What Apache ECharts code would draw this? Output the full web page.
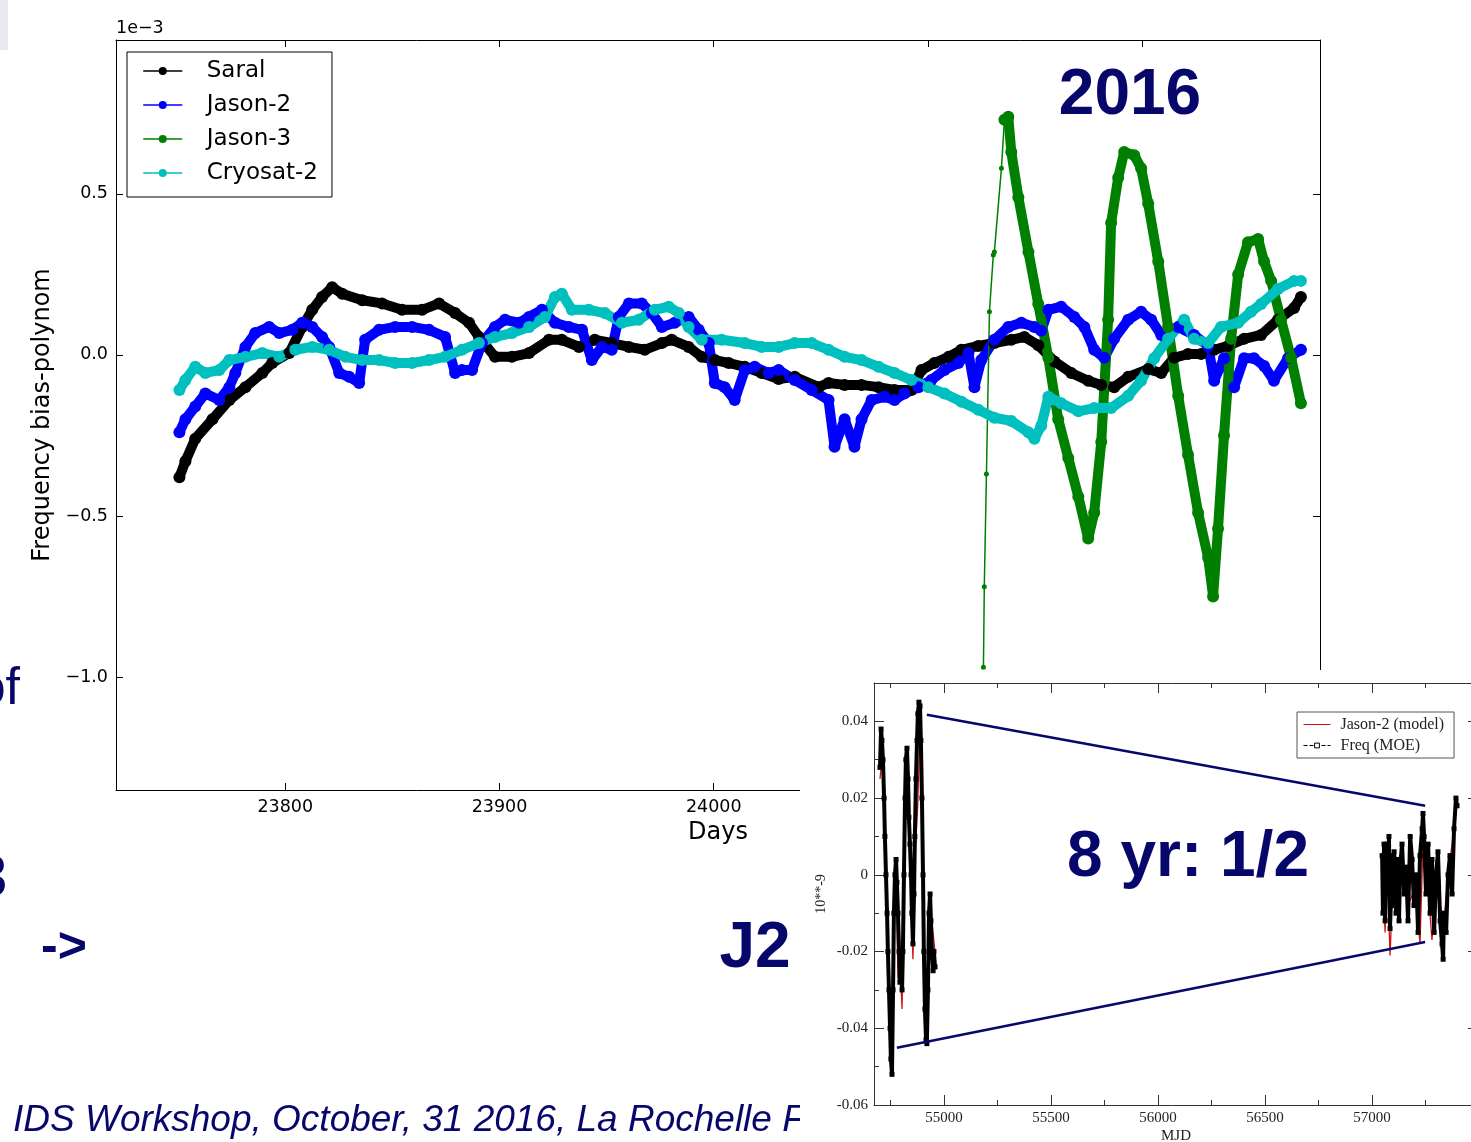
<!DOCTYPE html>
<html><head><meta charset="utf-8">
<script src="https://cdn.jsdelivr.net/npm/echarts@6/dist/echarts.min.js"></script>
<style>html,body{margin:0;padding:0;background:#fff}#c{width:1471px;height:1142px}</style>
</head><body><div id="c"></div>
<script>
// ---------- main chart data (Days, frequency bias in units of 1e-3) ----------
const mainXTicks = [23800, 23900, 24000, 24100, 24200];
const mainYTicks = [-1.0, -0.5, 0.0, 0.5];
const seriesNames = ['Saral', 'Jason-2', 'Jason-3', 'Cryosat-2'];

const saral = [[23750.6,-0.38],[23753.4,-0.33],[23758.0,-0.26],[23766.0,-0.20],[23773.9,-0.14],[23781.4,-0.10],[23789.3,-0.056],[23793.9,-0.025],[23801.9,0.006],[23807.9,0.087],[23812.6,0.14],[23817.2,0.18],[23821.9,0.21],[23826.6,0.19],[23835.9,0.17],[23845.2,0.16],[23854.5,0.14],[23863.9,0.14],[23871.8,0.16],[23879.3,0.13],[23885.8,0.10],[23890.4,0.056],[23897.9,-0.006],[23905.8,-0.006],[23913.8,0.006],[23923.1,0.047],[23929.1,0.047],[23937.1,0.025],[23944.5,0.047],[23952.4,0.037],[23960.4,0.025],[23967.8,0.016],[23975.8,0.037],[23980.4,0.047],[23988.3,0.025],[23994.4,-0.006],[24000.5,-0.016],[24007.0,-0.025],[24014.5,-0.037],[24022.4,-0.056],[24030.3,-0.075],[24037.8,-0.068],[24049.0,-0.10],[24053.6,-0.087],[24061.1,-0.093],[24069.0,-0.093],[24076.9,-0.10],[24084.4,-0.109],[24092.3,-0.109],[24097.0,-0.047],[24103.0,-0.025],[24109.6,-0.006],[24115.6,0.016],[24123.5,0.028],[24131.0,0.037],[24138.9,0.047],[24145.0,0.056],[24151.5,0.03],[24159.0,-0.02],[24166.9,-0.056],[24174.8,-0.08],[24180.9,-0.093],[24186.9,-0.10],[24193.5,-0.068],[24202.8,-0.044],[24208.9,-0.056],[24214.9,-0.009],[24221.4,0.003],[24227.5,0.003],[24233.6,0.016],[24240.1,0.028],[24247.6,0.05],[24255.5,0.062],[24263.4,0.109],[24270.9,0.146],[24274.1,0.18]];

const jason2 = [[23750.6,-0.24],[23753.4,-0.20],[23758.0,-0.16],[23762.7,-0.12],[23769.2,-0.14],[23773.9,-0.10],[23776.7,-0.056],[23781.4,0.025],[23786.0,0.068],[23792.5,0.087],[23797.2,0.068],[23803.3,0.078],[23807.9,0.10],[23812.6,0.087],[23817.2,0.056],[23820.5,0.025],[23825.2,-0.056],[23829.8,-0.068],[23834.5,-0.087],[23837.3,0.047],[23843.8,0.078],[23851.3,0.087],[23859.2,0.087],[23867.1,0.078],[23874.6,0.056],[23879.3,-0.056],[23882.5,-0.047],[23887.2,-0.047],[23891.8,0.037],[23897.9,0.087],[23902.6,0.109],[23909.1,0.10],[23913.8,0.118],[23919.8,0.14],[23925.9,0.10],[23932.4,0.087],[23938.5,0.078],[23943.1,-0.016],[23947.8,0.025],[23952.4,0.016],[23955.7,0.118],[23960.4,0.16],[23966.4,0.16],[23971.1,0.13],[23975.8,0.087],[23981.8,0.10],[23988.3,0.118],[23993.0,0.078],[23997.7,0.037],[24000.5,-0.087],[24005.1,-0.10],[24009.8,-0.14],[24014.5,-0.047],[24019.1,-0.037],[24025.6,-0.056],[24030.3,-0.047],[24037.8,-0.078],[24045.7,-0.109],[24053.6,-0.14],[24056.4,-0.285],[24061.1,-0.20],[24065.7,-0.285],[24069.0,-0.20],[24073.7,-0.14],[24079.7,-0.13],[24084.4,-0.14],[24089.0,-0.12],[24095.6,-0.10],[24101.6,-0.078],[24107.7,-0.047],[24114.2,-0.025],[24118.9,0.006],[24121.7,-0.10],[24124.9,-0.016],[24131.0,0.047],[24137.5,0.087],[24143.6,0.10],[24149.7,0.087],[24152.9,0.075],[24156.2,0.14],[24162.2,0.15],[24168.3,0.118],[24173.0,0.087],[24177.6,0.016],[24182.3,-0.009],[24186.9,0.05],[24193.5,0.109],[24199.5,0.134],[24204.2,0.109],[24208.9,0.062],[24216.8,0.087],[24224.2,0.062],[24230.8,0.028],[24233.6,-0.08],[24238.2,-0.01],[24242.9,-0.10],[24247.6,-0.01],[24252.2,-0.01],[24256.9,-0.034],[24261.5,-0.08],[24268.1,-0.01],[24274.1,0.016]];

const jason3Start = [[24125.9,-0.97],[24126.3,-0.72],[24127.3,-0.37],[24128.7,0.134],[24130.5,0.31],[24131.0,0.32],[24134.3,0.58],[24135.7,0.73]];
const jason3 = [[24135.7,0.73],[24137.5,0.74],[24138.9,0.63],[24142.2,0.49],[24146.9,0.32],[24151.5,0.158],[24156.2,-0.009],[24160.8,-0.20],[24165.5,-0.32],[24170.2,-0.44],[24174.8,-0.57],[24177.6,-0.49],[24180.9,-0.27],[24184.1,0.109],[24185.5,0.41],[24188.8,0.55],[24191.6,0.63],[24196.3,0.62],[24199.5,0.58],[24202.8,0.47],[24207.5,0.29],[24212.1,0.087],[24216.8,-0.127],[24221.4,-0.31],[24226.1,-0.49],[24230.8,-0.63],[24233.1,-0.75],[24235.4,-0.54],[24238.2,-0.25],[24241.5,0.05],[24244.8,0.25],[24249.4,0.35],[24254.1,0.36],[24256.9,0.29],[24260.2,0.23],[24264.8,0.109],[24269.5,-0.009],[24274.1,-0.15]];

const cryosat2 = [[23750.6,-0.109],[23753.4,-0.078],[23758.0,-0.037],[23762.7,-0.056],[23769.2,-0.047],[23773.9,-0.016],[23781.4,-0.006],[23789.3,0.006],[23797.2,-0.006],[23804.7,0.016],[23812.6,0.025],[23820.5,0.016],[23828.0,-0.006],[23835.9,-0.016],[23843.8,-0.016],[23851.3,-0.025],[23859.2,-0.025],[23867.1,-0.016],[23874.6,-0.006],[23882.5,0.016],[23890.4,0.037],[23897.9,0.056],[23905.8,0.068],[23913.8,0.087],[23921.2,0.118],[23925.9,0.18],[23929.1,0.19],[23933.8,0.14],[23941.7,0.14],[23949.2,0.13],[23957.1,0.10],[23965.0,0.109],[23972.5,0.14],[23979.0,0.15],[23983.7,0.13],[23988.3,0.087],[23994.4,0.047],[24003.7,0.047],[24014.5,0.037],[24022.4,0.025],[24030.3,0.025],[24037.8,0.037],[24045.7,0.037],[24053.6,0.016],[24061.1,-0.006],[24069.0,-0.016],[24076.9,-0.037],[24084.4,-0.056],[24092.3,-0.078],[24100.2,-0.10],[24107.7,-0.12],[24115.6,-0.145],[24123.5,-0.17],[24131.0,-0.195],[24138.9,-0.205],[24146.9,-0.24],[24149.7,-0.26],[24152.9,-0.22],[24156.2,-0.13],[24162.2,-0.15],[24170.2,-0.175],[24177.6,-0.165],[24185.5,-0.165],[24193.5,-0.127],[24199.5,-0.08],[24205.6,-0.01],[24212.1,0.05],[24219.6,0.109],[24224.2,0.05],[24230.8,0.037],[24236.8,0.087],[24244.8,0.10],[24250.8,0.134],[24255.5,0.158],[24263.4,0.205],[24270.9,0.23],[24274.1,0.23]];

// ---------- inset data (MJD, 10**-9) ----------
const insetXTicks = [55000, 55500, 56000, 56500, 57000];
const insetXMinor = [54750, 55250, 55750, 56250, 56750, 57250];
const insetYTicks = [-0.06, -0.04, -0.02, 0, 0.02, 0.04];
const insetYMinor = [-0.05, -0.03, -0.01, 0.01, 0.03];
const insetNames = ['Jason-2 (model)', 'Freq (MOE)'];

const freqMoeLeft = [[54701,0.028],[54706,0.038],[54710,0.035],[54715,0.030],[54720,0.020],[54724,0.010],[54729,0.000],[54734,-0.010],[54738,-0.020],[54743,-0.030],[54748,-0.040],[54752,-0.048],[54757,-0.052],[54762,-0.030],[54766,-0.010],[54771,0.000],[54776,0.004],[54780,-0.002],[54785,-0.010],[54790,-0.020],[54794,-0.028],[54799,-0.025],[54804,-0.030],[54808,-0.020],[54813,0.000],[54818,0.020],[54822,0.030],[54827,0.033],[54832,0.025],[54836,0.015],[54841,0.008],[54846,0.000],[54850,-0.010],[54855,-0.018],[54860,-0.005],[54864,0.010],[54869,0.025],[54874,0.035],[54878,0.042],[54883,0.045],[54888,0.044],[54892,0.035],[54897,0.020],[54902,0.000],[54906,-0.020],[54911,-0.035],[54916,-0.043],[54920,-0.044],[54925,-0.030],[54930,-0.010],[54935,-0.005],[54939,-0.012],[54944,-0.020],[54949,-0.025],[54953,-0.020],[54958,-0.024]];
const freqMoeRight = [[57047,0.005],[57051,-0.010],[57056,0.008],[57061,-0.012],[57065,0.002],[57070,0.008],[57075,-0.005],[57079,0.010],[57084,-0.014],[57089,0.000],[57093,0.005],[57098,-0.008],[57103,0.006],[57107,0.002],[57112,-0.010],[57117,0.004],[57121,0.000],[57126,-0.012],[57131,0.002],[57140,0.008],[57150,-0.005],[57159,0.002],[57168,-0.012],[57178,0.010],[57187,0.004],[57196,-0.008],[57206,0.000],[57215,-0.015],[57224,0.005],[57234,0.012],[57238,0.016],[57243,0.010],[57252,-0.005],[57262,0.008],[57271,-0.010],[57280,0.004],[57290,-0.015],[57299,0.000],[57308,0.006],[57318,-0.012],[57327,-0.018],[57332,-0.022],[57336,-0.010],[57346,-0.015],[57355,0.000],[57364,0.005],[57374,-0.005],[57383,0.012],[57392,0.020],[57397,0.018]];
const modelLeft = [[54701,0.025],[54710,0.030],[54715,0.027],[54720,0.014],[54729,0.004],[54745,-0.035],[54757,-0.045],[54766,-0.012],[54776,0.002],[54785,-0.027],[54794,-0.022],[54804,-0.035],[54813,-0.005],[54822,0.022],[54832,0.018],[54841,0.004],[54855,-0.022],[54864,0.004],[54878,0.019],[54888,0.040],[54897,0.016],[54906,-0.015],[54920,-0.040],[54930,-0.008],[54939,-0.010],[54958,-0.020]];
const modelRight = [[57047,0.002],[57061,-0.015],[57070,0.004],[57084,-0.021],[57098,-0.002],[57121,-0.004],[57140,0.003],[57168,-0.008],[57196,-0.004],[57206,-0.006],[57224,-0.018],[57238,0.008],[57262,-0.004],[57280,-0.017],[57299,-0.004],[57318,-0.008],[57336,-0.012],[57355,0.000],[57374,0.008],[57392,0.016]];
const connectorUpper = [[54920,0.0417],[57248,0.018]];
const connectorLower = [[54780,-0.0451],[57248,-0.0175]];

// ---------- build ----------
const DV = 'DejaVu Sans', SERIF = 'Liberation Serif';
const NAVY = '#07076b';
const GAP = [56000, '-'];

function mainSeries(name, data, color, lw, ss) {
  return { name, type: 'line', data, xAxisIndex: 0, yAxisIndex: 0,
    symbol: 'circle', symbolSize: ss, showSymbol: true,
    lineStyle: { color, width: lw, join: 'round', cap: 'round' },
    itemStyle: { color }, emphasis: { disabled: true }, z: 2 };
}
function tickAxis(base) { return Object.assign({ splitLine: { show: false }, axisPointer: { show: false } }, base); }

const mainX = { min: 23721, max: 24283 };
const mainY = { min: -1.351, max: 0.978 };
const insX = { min: 54673, max: 57495 };
const insY = { min: -0.06, max: 0.05 };
const mainAxisLine = { show: true, onZero: false, lineStyle: { color: '#000', width: 1 } };
const insAxisLine = { show: true, onZero: false, lineStyle: { color: '#333', width: 1 } };
const hiddenLine = { show: false, onZero: false };

const option = {
  animation: false,
  backgroundColor: '#fff',
  grid: [
    { left: 116, top: 40, width: 1204, height: 750, containLabel: false, outerBoundsMode: 'none' },
    { left: 874, top: 683, width: 604, height: 422, containLabel: false, outerBoundsMode: 'none', z: 60 },
    { left: 874, top: 683, width: 604, height: 422, containLabel: false, outerBoundsMode: 'none', z: 60 }
  ],
  legend: [
    { data: seriesNames, orient: 'vertical', left: 127, top: 52, z: 10,
      padding: [6, 14, 11, 16], itemGap: 8, itemWidth: 38, itemHeight: 10,
      backgroundColor: '#fff', borderColor: '#000', borderWidth: 1, borderRadius: 0,
      lineStyle: { width: 1.5 }, itemStyle: { borderWidth: 0 }, selectedMode: false,
      textStyle: { fontFamily: DV, fontSize: 23, color: '#000', lineHeight: 26, padding: [0, 0, 0, 20] } },
    { data: [{ name: insetNames[0], itemStyle: { opacity: 0 } },
             { name: insetNames[1], lineStyle: { type: 'dashed', width: 1 }, itemStyle: { color: '#fff', borderColor: '#000', borderWidth: 1 } }],
      orient: 'vertical', left: 1297, top: 712, z: 70,
      padding: [4, 10, 4, 6], itemGap: 4, itemWidth: 27, itemHeight: 6,
      backgroundColor: '#fff', borderColor: '#555', borderWidth: 1, borderRadius: 0,
      lineStyle: { width: 1 }, selectedMode: false,
      textStyle: { fontFamily: SERIF, fontSize: 16, color: '#222', lineHeight: 17, padding: [0, 0, 0, 5] } }
  ],
  xAxis: [
    tickAxis(Object.assign({ type: 'value', gridIndex: 0, position: 'bottom',
      name: 'Days', nameLocation: 'middle', nameGap: 30,
      nameTextStyle: { fontFamily: DV, fontSize: 24, color: '#000' },
      axisLine: mainAxisLine,
      axisTick: { show: true, inside: true, length: 7, customValues: mainXTicks, lineStyle: { color: '#000' } },
      axisLabel: { show: true, customValues: mainXTicks, margin: 8, fontFamily: DV, fontSize: 17.5, color: '#000', formatter: v => String(v) } }, mainX)),
    tickAxis(Object.assign({ type: 'value', gridIndex: 0, position: 'top',
      axisLine: mainAxisLine,
      axisTick: { show: true, inside: true, length: 7, customValues: mainXTicks, lineStyle: { color: '#000' } },
      axisLabel: { show: false } }, mainX)),
    tickAxis(Object.assign({ type: 'value', gridIndex: 1, position: 'bottom', z: 60,
      name: 'MJD', nameLocation: 'middle', nameGap: 24,
      nameTextStyle: { fontFamily: SERIF, fontSize: 15, color: '#222' },
      axisLine: insAxisLine,
      axisTick: { show: true, inside: true, length: 10, customValues: insetXTicks, lineStyle: { color: '#333' } },
      axisLabel: { show: true, customValues: insetXTicks, margin: 6, fontFamily: SERIF, fontSize: 15, color: '#222', formatter: v => String(v) } }, insX)),
    tickAxis(Object.assign({ type: 'value', gridIndex: 1, position: 'top', z: 60,
      axisLine: insAxisLine,
      axisTick: { show: true, inside: true, length: 10, customValues: insetXTicks, lineStyle: { color: '#333' } },
      axisLabel: { show: false } }, insX)),
    tickAxis(Object.assign({ type: 'value', gridIndex: 2, position: 'bottom', z: 60,
      axisLine: hiddenLine,
      axisTick: { show: true, inside: true, length: 5, customValues: insetXMinor, lineStyle: { color: '#333' } },
      axisLabel: { show: false } }, insX)),
    tickAxis(Object.assign({ type: 'value', gridIndex: 2, position: 'top', z: 60,
      axisLine: hiddenLine,
      axisTick: { show: true, inside: true, length: 5, customValues: insetXMinor, lineStyle: { color: '#333' } },
      axisLabel: { show: false } }, insX))
  ],
  yAxis: [
    tickAxis(Object.assign({ type: 'value', gridIndex: 0, position: 'left',
      name: 'Frequency bias-polynom', nameLocation: 'middle', nameGap: 52, nameRotate: 90,
      nameTextStyle: { fontFamily: DV, fontSize: 24, color: '#000' },
      axisLine: mainAxisLine,
      axisTick: { show: true, inside: true, length: 7, customValues: mainYTicks, lineStyle: { color: '#000' } },
      axisLabel: { show: true, customValues: mainYTicks, margin: 8, fontFamily: DV, fontSize: 17.5, color: '#000',
        formatter: v => (v < 0 ? '\u2212' : '') + Math.abs(v).toFixed(1) } }, mainY)),
    tickAxis(Object.assign({ type: 'value', gridIndex: 0, position: 'right',
      axisLine: mainAxisLine,
      axisTick: { show: true, inside: true, length: 7, customValues: mainYTicks, lineStyle: { color: '#000' } },
      axisLabel: { show: false } }, mainY)),
    tickAxis(Object.assign({ type: 'value', gridIndex: 1, position: 'left', z: 60,
      name: '10**-9', nameLocation: 'middle', nameGap: 46, nameRotate: 90,
      nameTextStyle: { fontFamily: SERIF, fontSize: 14, color: '#222' },
      axisLine: insAxisLine,
      axisTick: { show: true, inside: true, length: 10, customValues: insetYTicks, lineStyle: { color: '#333' } },
      axisLabel: { show: true, customValues: insetYTicks, margin: 6, fontFamily: SERIF, fontSize: 15, color: '#222',
        formatter: v => (Math.abs(v) < 1e-9 ? '0' : v.toFixed(2)) } }, insY)),
    tickAxis(Object.assign({ type: 'value', gridIndex: 1, position: 'right', z: 60,
      axisLine: insAxisLine,
      axisTick: { show: true, inside: true, length: 10, customValues: insetYTicks, lineStyle: { color: '#333' } },
      axisLabel: { show: false } }, insY)),
    tickAxis(Object.assign({ type: 'value', gridIndex: 2, position: 'left', z: 60,
      axisLine: hiddenLine,
      axisTick: { show: true, inside: true, length: 5, customValues: insetYMinor, lineStyle: { color: '#333' } },
      axisLabel: { show: false } }, insY)),
    tickAxis(Object.assign({ type: 'value', gridIndex: 2, position: 'right', z: 60,
      axisLine: hiddenLine,
      axisTick: { show: true, inside: true, length: 5, customValues: insetYMinor, lineStyle: { color: '#333' } },
      axisLabel: { show: false } }, insY))
  ],
  series: [
    mainSeries('Saral', saral, '#000000', 10, 12),
    mainSeries('Jason-2', jason2, '#0000ff', 10, 12),
    mainSeries('Jason-3', jason3Start, '#008000', 1.5, 5),
    mainSeries('Jason-3', jason3, '#008000', 10, 12),
    mainSeries('Cryosat-2', cryosat2, '#00bfbf', 10, 12),
    { name: insetNames[0], type: 'line', xAxisIndex: 2, yAxisIndex: 2, z: 61,
      data: modelLeft.concat([GAP], modelRight), connectNulls: false, symbol: 'none',
      lineStyle: { color: '#d01010', width: 1.3 }, itemStyle: { color: '#d01010' }, emphasis: { disabled: true } },
    { name: insetNames[1], type: 'line', xAxisIndex: 2, yAxisIndex: 2, z: 62,
      data: freqMoeLeft.concat([GAP], freqMoeRight), connectNulls: false,
      symbol: 'rect', symbolSize: 5, showSymbol: true,
      lineStyle: { color: '#000', width: 4, join: 'round' }, itemStyle: { color: '#000' },
      emphasis: { disabled: true } },
    { name: 'upper link', type: 'line', xAxisIndex: 2, yAxisIndex: 2, z: 63, data: connectorUpper,
      symbol: 'none', silent: true, lineStyle: { color: NAVY, width: 2.5 }, emphasis: { disabled: true } },
    { name: 'lower link', type: 'line', xAxisIndex: 2, yAxisIndex: 2, z: 63, data: connectorLower,
      symbol: 'none', silent: true, lineStyle: { color: NAVY, width: 2.5 }, emphasis: { disabled: true } }
  ],
  graphic: { elements: [
    { type: 'rect', z: 0, silent: true, shape: { x: 0, y: 0, width: 8, height: 50 }, style: { fill: '#e8e8f3' } },
    { type: 'text', z: 5, silent: true, x: 116, y: 28,
      style: { text: '1e\u22123', font: '17.5px "DejaVu Sans"', fill: '#000', textAlign: 'left', textVerticalAlign: 'middle', align: 'left', verticalAlign: 'middle' } },
    { type: 'text', z: 40, silent: true, x: 13, y: 1121,
      style: { text: 'IDS Workshop, October, 31 2016, La Rochelle France', font: 'italic 37px "Liberation Sans"', fill: NAVY, textAlign: 'left', textVerticalAlign: 'middle', align: 'left', verticalAlign: 'middle' } },
    { type: 'rect', z: 50, silent: true, shape: { x: 800, y: 670, width: 671, height: 472 }, style: { fill: '#fff' } },
    { type: 'text', z: 80, silent: true, x: 1130, y: 96,
      style: { text: '2016', font: 'bold 64px "Liberation Sans"', fill: NAVY, textAlign: 'center', textVerticalAlign: 'middle', align: 'center', verticalAlign: 'middle' } },
    { type: 'text', z: 80, silent: true, x: 1188, y: 858,
      style: { text: '8 yr: 1/2', font: 'bold 64px "Liberation Sans"', fill: NAVY, textAlign: 'center', textVerticalAlign: 'middle', align: 'center', verticalAlign: 'middle' } },
    { type: 'text', z: 80, silent: true, x: 755, y: 949,
      style: { text: 'J2', font: 'bold 64px "Liberation Sans"', fill: NAVY, textAlign: 'center', textVerticalAlign: 'middle', align: 'center', verticalAlign: 'middle' } },
    { type: 'text', z: 80, silent: true, x: 64, y: 948,
      style: { text: '->', font: 'bold 50px "Liberation Sans"', fill: NAVY, textAlign: 'center', textVerticalAlign: 'middle', align: 'center', verticalAlign: 'middle' } },
    { type: 'text', z: 80, silent: true, x: 20, y: 690,
      style: { text: 'of', font: '52px "Liberation Sans"', fill: NAVY, textAlign: 'right', textVerticalAlign: 'middle', align: 'right', verticalAlign: 'middle' } },
    { type: 'text', z: 80, silent: true, x: 7, y: 879,
      style: { text: '3', font: 'bold 60px "Liberation Sans"', fill: NAVY, textAlign: 'right', textVerticalAlign: 'middle', align: 'right', verticalAlign: 'middle' } }
  ] }
};

const chart = echarts.init(document.getElementById('c'), null, { renderer: 'canvas', width: 1471, height: 1142 });
chart.setOption(option);
</script>
</body></html>
